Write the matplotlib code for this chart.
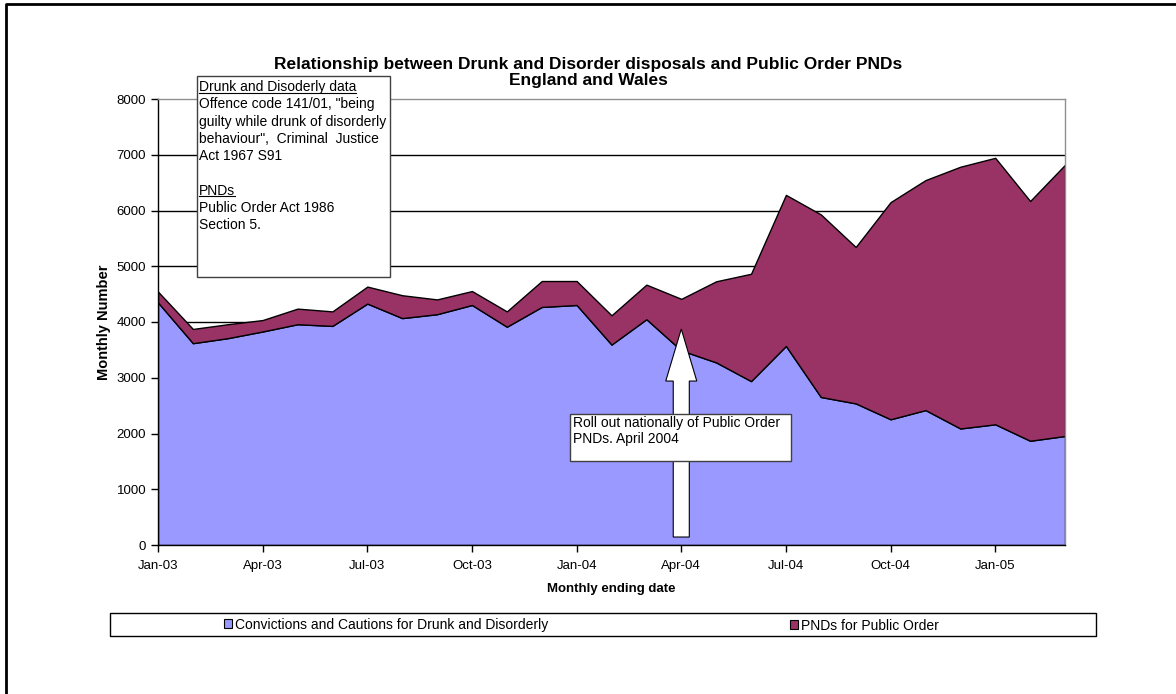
import matplotlib
matplotlib.use('Agg')
import matplotlib.pyplot as plt
from matplotlib.patches import Rectangle, FancyArrow, Patch
from matplotlib.lines import Line2D

plt.rcParams['font.family'] = ['Liberation Sans', 'DejaVu Sans']

months = ['Jan-03', 'Feb-03', 'Mar-03', 'Apr-03', 'May-03', 'Jun-03', 'Jul-03', 'Aug-03', 'Sep-03',
          'Oct-03', 'Nov-03', 'Dec-03', 'Jan-04', 'Feb-04', 'Mar-04', 'Apr-04', 'May-04', 'Jun-04',
          'Jul-04', 'Aug-04', 'Sep-04', 'Oct-04', 'Nov-04', 'Dec-04', 'Jan-05', 'Feb-05', 'Mar-05']
convictions = [4350, 3620, 3710, 3830, 3960, 3930, 4330, 4070, 4140, 4305, 3915, 4270, 4305, 3595,
               4050, 3490, 3275, 2940, 3570, 2655, 2540, 2255, 2420, 2090, 2165, 1870, 1955]
pnds = [195, 255, 250, 205, 280, 260, 305, 410, 265, 250, 275, 465, 430, 525,
        620, 925, 1455, 1925, 2710, 3275, 2805, 3895, 4125, 4695, 4780, 4300, 4865]
series_names = ['Convictions and Cautions for Drunk and Disorderly', 'PNDs for Public Order']
colors = ['#9999FF', '#993366']

W, H = 1176, 694
fig = plt.figure(figsize=(W / 100, H / 100), dpi=100)


def fx(px):
    return px / W


def fy(py):
    return 1 - py / H


ax = fig.add_axes([fx(158), fy(545), fx(1065) - fx(158), fy(99) - fy(545)])

x = list(range(len(months)))
ax.stackplot(x, convictions, pnds, colors=colors, edgecolor='black', linewidth=1.0, zorder=2)

ax.set_xlim(0, len(months) - 1)
ax.set_ylim(0, 8000)
ax.set_yticks(range(0, 8001, 1000))
ax.set_xticks(x[::3])
ax.set_xticklabels(months[::3])
ax.tick_params(axis='both', labelsize=9.5, direction='out', length=5, width=1, color='black')
ax.tick_params(axis='x', pad=6)
for yv in range(1000, 8000, 1000):
    ax.axhline(yv, color='black', lw=1, zorder=1)
ax.spines['top'].set_color('#909090')
ax.spines['right'].set_color('#909090')
ax.spines['left'].set_color('black')
ax.spines['bottom'].set_color('black')
for s in ax.spines.values():
    s.set_linewidth(1)
    s.set_zorder(3)

ax.set_xlabel('Monthly ending date', fontsize=9.5, fontweight='bold', labelpad=8)
ax.set_ylabel('Monthly Number', fontsize=10.5, fontweight='bold', labelpad=4)

# rollout arrow at Apr-04
ax.add_patch(FancyArrow(15, 143, 0, 3731, width=0.46, head_width=0.89, head_length=933,
                        length_includes_head=True, fc='white', ec='black', lw=0.8, zorder=4))

# rollout note box
fig.patches.append(Rectangle((fx(570), fy(461)), fx(791) - fx(570), fy(414) - fy(461),
                             transform=fig.transFigure, fc='white', ec='#404040', lw=1, zorder=5))
fig.text(fx(573), fy(416), 'Roll out nationally of Public Order\nPNDs. April 2004', fontsize=10,
         va='top', ha='left', linespacing=1.2, zorder=6)

# data notes box
fig.patches.append(Rectangle((fx(197), fy(277)), fx(390) - fx(197), fy(76) - fy(277),
                             transform=fig.transFigure, fc='white', ec='#404040', lw=1, zorder=5))
note_lines = ['Drunk and Disoderly data', 'Offence code 141/01, "being',
              'guilty while drunk of disorderly', 'behaviour",  Criminal  Justice',
              'Act 1967 S91', '', 'PNDs', 'Public Order Act 1986', 'Section 5.']
underlined = []
for i, line in enumerate(note_lines):
    t = fig.text(fx(199), fy(87 + i * 17.3), line, fontsize=10, va='center', ha='left', zorder=6)
    if i in (0, 6):
        underlined.append(t)

# title
fig.text(0.5, fy(65), 'Relationship between Drunk and Disorder disposals and Public Order PNDs',
         fontsize=12.5, fontweight='bold', ha='center', va='center')
fig.text(0.5, fy(81), 'England and Wales', fontsize=12.5, fontweight='bold', ha='center', va='center')

# legend with box, one legend per entry so both sit on the same line
fig.patches.append(Rectangle((fx(110), fy(636)), fx(1096) - fx(110), fy(613) - fy(636),
                             transform=fig.transFigure, fc='white', ec='black', lw=1, zorder=1))
for name, c, left, ly in zip(series_names, colors, [224, 790], [624.5, 625.5]):
    fig.legend([Patch(fc=c, ec='black', lw=0.8)], [name], loc='center left',
               bbox_to_anchor=(fx(left), fy(ly)), frameon=False, fontsize=10,
               handlelength=0.6, handleheight=0.6, handletextpad=0.2, borderpad=0, borderaxespad=0)

# outer frame
fig.add_artist(Line2D([fx(6), fx(6), 1], [0, fy(4), fy(4)], transform=fig.transFigure,
                      color='black', lw=2))

fig.canvas.draw()
renderer = fig.canvas.get_renderer()
inv = fig.transFigure.inverted()
for t in underlined:
    bb = t.get_window_extent(renderer)
    (x0, y0), (x1, y1) = inv.transform([[bb.x0, bb.y0], [bb.x1, bb.y1]])
    fig.add_artist(Line2D([x0, x1], [y0 + 0.002, y0 + 0.002], transform=fig.transFigure,
                          color='black', lw=0.8, zorder=6))

fig.savefig('out.png', dpi=100)
